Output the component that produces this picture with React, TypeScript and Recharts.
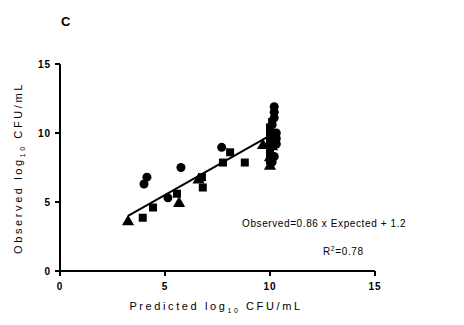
import {
  ScatterChart,
  Scatter,
  XAxis,
  YAxis,
  ZAxis,
  ReferenceLine,
} from "recharts";

const circleX = [4.0, 4.14, 5.14, 5.76, 7.7, 10.2, 10.2, 10.2, 10.1, 10.3, 10.3, 10.3, 10.2, 10.1];
const circleY = [6.3, 6.8, 5.3, 7.5, 8.96, 11.9, 11.5, 11.1, 10.6, 10.0, 9.6, 9.2, 8.3, 7.9];

const squareX = [3.94, 4.43, 5.57, 6.76, 6.8, 7.76, 8.1, 8.8, 10.1, 10.0, 10.0, 10.0, 10.0, 10.0, 10.0, 10.0];
const squareY = [3.86, 4.6, 5.6, 6.8, 6.05, 7.86, 8.6, 7.86, 10.8, 10.4, 10.0, 9.6, 9.2, 8.8, 8.4, 8.0];

const triangleX = [3.24, 5.67, 6.6, 9.67, 10.0, 10.0, 10.1];
const triangleY = [3.57, 4.9, 6.6, 9.1, 7.6, 8.2, 9.0];

// fitted line ends
const fitX = [3.24, 10.1];
const fitY = [3.99, 9.9];

const ticks = [0, 5, 10, 15];

const toPoints = (xs: number[], ys: number[]) =>
  xs.map((x, i) => ({ x, y: ys[i] }));

const font = "'Liberation Sans', Arial, sans-serif";

const XTick = (props: any) => {
  const { x, y, payload } = props;
  return (
    <text x={x} y={y + 12} textAnchor="middle" fontSize={10} fontWeight="bold" fontFamily={font} letterSpacing={1} fill="#000">
      {payload.value}
    </text>
  );
};

const YTick = (props: any) => {
  const { x, y, payload } = props;
  return (
    <text x={x - 2} y={y + 4} textAnchor="end" fontSize={10} fontWeight="bold" fontFamily={font} letterSpacing={1} fill="#000">
      {payload.value}
    </text>
  );
};

const LabelText = ({ x, y, rotate, pre }: { x: number; y: number; rotate?: boolean; pre: string }) => (
  <text
    x={x}
    y={y}
    textAnchor="middle"
    fontSize={11}
    fontFamily={font}
    letterSpacing={2.6}
    fill="#000"
    transform={rotate ? `rotate(-90, ${x}, ${y})` : undefined}
  >
    {pre} log
    <tspan fontSize={7} dy={3}>10</tspan>
    <tspan dy={-3}> CFU/mL</tspan>
  </text>
);

export default function App() {
  return (
    <div style={{ position: "relative", width: 464, height: 325, background: "#fff" }}>
      <style>{`body{margin:0}`}</style>
      <ScatterChart width={464} height={325} margin={{ top: 64, right: 89, bottom: 0, left: 10 }}>
        <XAxis
          type="number"
          dataKey="x"
          domain={[0, 15]}
          ticks={ticks}
          height={54}
          axisLine={{ stroke: "#000", strokeWidth: 2 }}
          tickLine={{ stroke: "#000", strokeWidth: 2 }}
          tickSize={5}
          tick={<XTick />}
          label={{ content: () => <LabelText x={216} y={310} pre="Predicted" /> }}
        />
        <YAxis
          type="number"
          dataKey="y"
          domain={[0, 15]}
          ticks={ticks}
          width={50}
          axisLine={{ stroke: "#000", strokeWidth: 2 }}
          tickLine={{ stroke: "#000", strokeWidth: 2 }}
          tickSize={5}
          tick={<YTick />}
          label={{ content: () => <LabelText x={22} y={168} rotate pre="Observed" /> }}
        />
        <ZAxis range={[70, 70]} />
        <ReferenceLine
          segment={[
            { x: fitX[0], y: fitY[0] },
            { x: fitX[1], y: fitY[1] },
          ]}
          stroke="#000"
          strokeWidth={2}
        />
        <Scatter data={toPoints(circleX, circleY)} shape="circle" fill="#000" isAnimationActive={false} />
        <Scatter data={toPoints(squareX, squareY)} shape="square" fill="#000" isAnimationActive={false} />
        <Scatter data={toPoints(triangleX, triangleY)} shape="triangle" fill="#000" isAnimationActive={false} />
      </ScatterChart>
      <div style={{ position: "absolute", left: 61, top: 14, fontFamily: font, fontWeight: "bold", fontSize: 13 }}>C</div>
      <div style={{ position: "absolute", left: 242, top: 218, fontFamily: font, fontSize: 10, letterSpacing: 0.6, whiteSpace: "nowrap" }}>
        Observed=0.86 x Expected + 1.2
      </div>
      <div style={{ position: "absolute", left: 323, top: 245, fontFamily: font, fontSize: 10, letterSpacing: 0.6, whiteSpace: "nowrap" }}>
        R<sup style={{ fontSize: 7 }}>2</sup>=0.78
      </div>
    </div>
  );
}
